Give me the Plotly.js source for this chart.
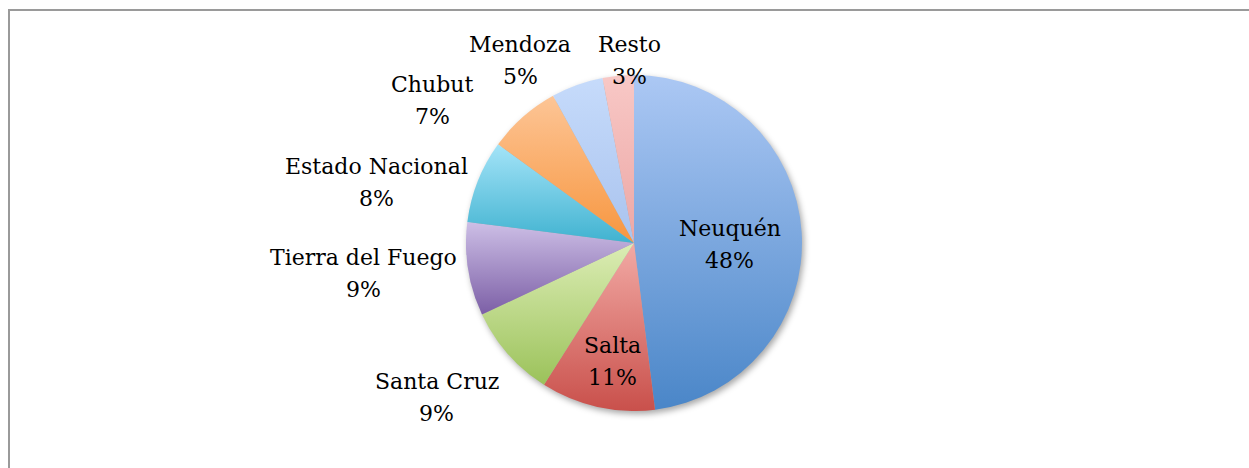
<!DOCTYPE html>
<html>
<head>
<meta charset="utf-8">
<script src="https://cdn.plot.ly/plotly-3.0.1.min.js"></script>
<style>
  html, body { margin: 0; padding: 0; background: #ffffff; }
  #wrap { position: relative; width: 1249px; height: 468px; overflow: hidden; }
  #frame { position: absolute; left: 8px; top: 9px; width: 1300px; height: 520px;
           border: 2px solid #9a9a9a; box-sizing: border-box; pointer-events: none; }
  #chart { position: absolute; left: 0; top: 0; width: 1249px; height: 468px; }
</style>
</head>
<body>
<div id="wrap">
  <div id="chart"></div>
  <div id="frame"></div>
</div>
<script>
// ---- data ----
const provinces = ["Neuquén", "Salta", "Santa Cruz", "Tierra del Fuego", "Estado Nacional", "Chubut", "Mendoza", "Resto"];
const shares = [48, 11, 9, 9, 8, 7, 5, 3];

// ---- styling ----
const sliceColors = ["#6b9bd9", "#d9625e", "#b5d37c", "#a08cc4", "#66c6e2", "#f9a85c", "#b9cff5", "#f4b6b4"];
const gradTop    = ["#acc8f4", "#f2aaa5", "#dcedb5", "#cdbfe6", "#a4e4f8", "#fdc596", "#c6dbfb", "#f8c8c6"];
const gradBottom = ["#4a86c8", "#c9504b", "#9bc25a", "#7c5fa6", "#40b2d0", "#f7963f", "#a9c3ee", "#eca7a5"];
const labelInside = [true, true, false, false, false, false, false, false];
const labelDistance = [96, 121, 201, 180, 180, 217, 181, 152]; // px from pie centre
const labelNudge = [[0, 8], [5, 0], [0, 2], [0, -2], [-5, 17], [-31, 43], [-35, 16], [13, -1]];
const FONT_FAMILY = "DejaVu Serif";
const FONT_SIZE = 22;
const LINE_GAP = 32;

const W = 1249, H = 468;
const margin = { l: 19, r: 0, t: 75, b: 57 };

const trace = {
  type: "pie",
  labels: provinces,
  values: shares,
  sort: false,
  direction: "clockwise",
  rotation: 0,
  marker: { colors: sliceColors, line: { width: 0 } },
  textinfo: "none",
  hoverinfo: "none",
  showlegend: false
};

// measure text widths
const cv = document.createElement("canvas");
const ctx = cv.getContext("2d");
ctx.font = FONT_SIZE + "px '" + FONT_FAMILY + "'";

const total = shares.reduce((a, b) => a + b, 0);
const annotations = [];
let cum = 0;
shares.forEach((v, i) => {
  const mid = (cum + v / 2) / total * 2 * Math.PI;
  cum += v;
  const s = Math.sin(mid), c = Math.cos(mid);
  const pct = Math.round(v / total * 100) + "%";
  const r = labelDistance[i];
  let cx = r * s, cy = -r * c; // screen px relative to centre (y down)
  if (!labelInside[i]) {
    const w = Math.max(ctx.measureText(provinces[i]).width, ctx.measureText(pct).width);
    const h = LINE_GAP + FONT_SIZE * 1.3;
    cx += (w / 2) * s;
    cy += -(h / 2) * c;
  }
  cx += labelNudge[i][0];
  cy += labelNudge[i][1];
  const lines = [[provinces[i], cy - LINE_GAP / 2], [pct, cy + LINE_GAP / 2]];
  lines.forEach(([txt, ly]) => {
    annotations.push({
      xref: "paper", yref: "paper", x: 0.5, y: 0.5,
      xshift: cx, yshift: -ly,
      xanchor: "center", yanchor: "middle",
      text: txt, showarrow: false,
      font: { family: FONT_FAMILY, size: FONT_SIZE, color: "#000000" }
    });
  });
});

const layout = {
  width: W,
  height: H,
  margin: margin,
  paper_bgcolor: "rgba(0,0,0,0)",
  plot_bgcolor: "rgba(0,0,0,0)",
  showlegend: false,
  font: { family: FONT_FAMILY, color: "#000000" },
  annotations: annotations
};

Plotly.newPlot("chart", [trace], layout, { staticPlot: true, displayModeBar: false }).then(gd => {
  // per-slice vertical gradients + soft shadow (Office style)
  const svgNS = "http://www.w3.org/2000/svg";
  const svg = gd.querySelector("svg.main-svg");
  let defs = svg.querySelector("defs");
  if (!defs) { defs = document.createElementNS(svgNS, "defs"); svg.insertBefore(defs, svg.firstChild); }
  gradTop.forEach((top, i) => {
    const lg = document.createElementNS(svgNS, "linearGradient");
    lg.setAttribute("id", "sliceGrad" + i);
    lg.setAttribute("x1", "0"); lg.setAttribute("y1", "0");
    lg.setAttribute("x2", "0"); lg.setAttribute("y2", "1");
    [[0, top], [1, gradBottom[i]]].forEach(([off, col]) => {
      const st = document.createElementNS(svgNS, "stop");
      st.setAttribute("offset", off);
      st.setAttribute("stop-color", col);
      lg.appendChild(st);
    });
    defs.appendChild(lg);
  });
  const paths = gd.querySelectorAll("g.slice path.surface");
  paths.forEach((p, i) => {
    const idx = (p.__data__ && p.__data__.i !== undefined) ? p.__data__.i : i;
    p.style.fill = "url(#sliceGrad" + idx + ")";
  });
  const tr = gd.querySelector("g.pielayer g.trace");
  if (tr) tr.style.filter = "drop-shadow(2px 3px 3px rgba(0,0,0,0.35))";
});
</script>
</body>
</html>
